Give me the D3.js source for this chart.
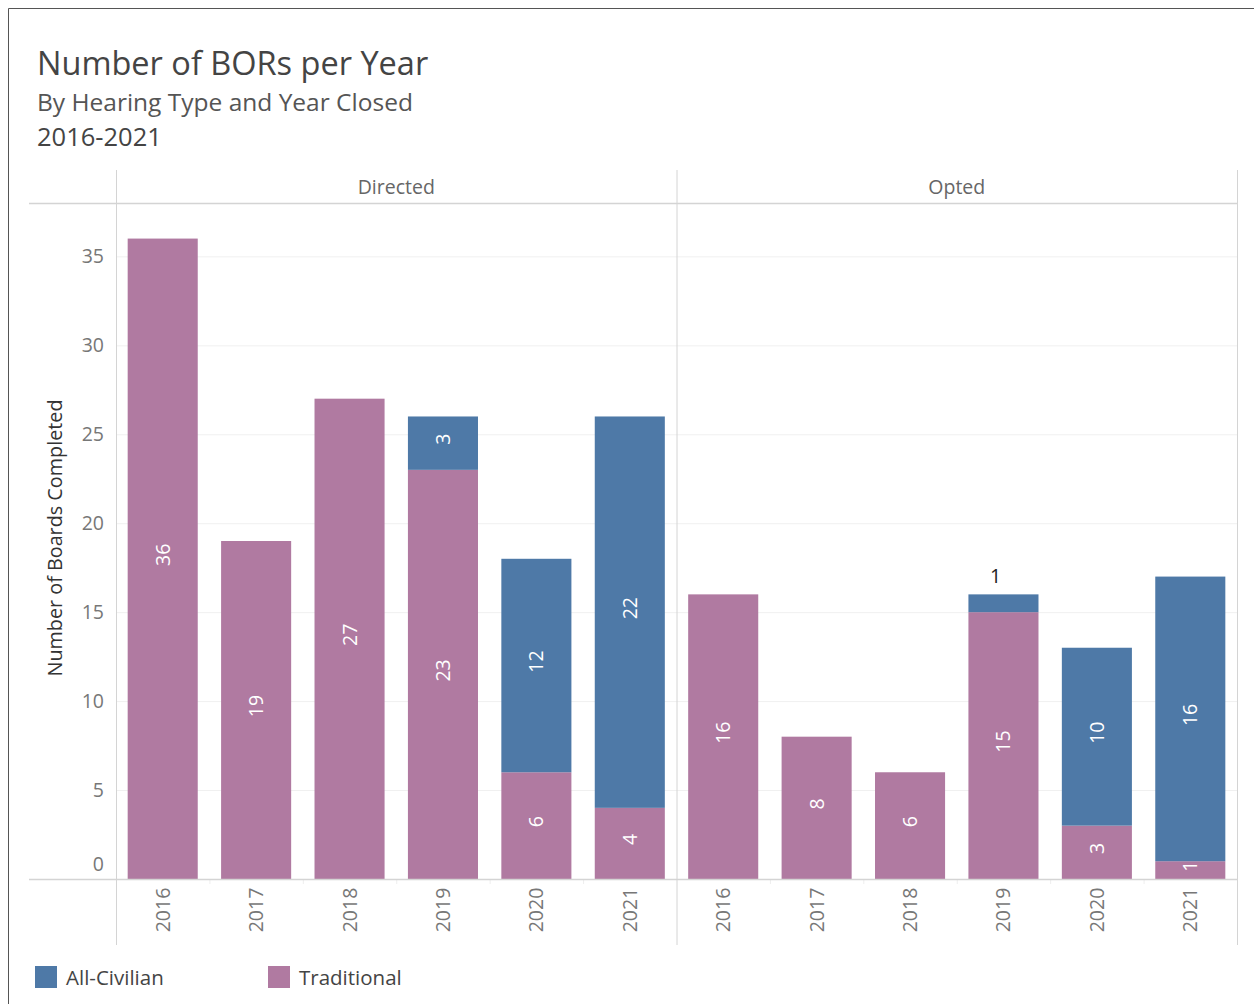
<!DOCTYPE html>
<html><head><meta charset="utf-8">
<script src="https://cdn.jsdelivr.net/npm/d3@7"></script>
<style>body{margin:0;background:#fff;}svg{display:block;font-family:"Open Sans",sans-serif;}</style>
</head><body>
<svg id="c" width="1254" height="1004"></svg>
<script>
const panels = ["Directed", "Opted"];
const years = ["2016", "2017", "2018", "2019", "2020", "2021"];
const seriesNames = ["Traditional", "All-Civilian"];
const directedTraditional = [36, 19, 27, 23, 6, 4];
const directedCivilian = [0, 0, 0, 3, 12, 22];
const optedTraditional = [16, 8, 6, 15, 3, 1];
const optedCivilian = [0, 0, 0, 1, 10, 16];
const yTicks = [0, 5, 10, 15, 20, 25, 30, 35];
const colors = {"Traditional": "#B07AA1", "All-Civilian": "#4E79A7"};

const svg = d3.select("#c");
svg.append("path").attr("d","M8.5,1004 V8.5 H1254").attr("fill","none").attr("stroke","#555").attr("stroke-width",1);

svg.append("text").attr("x",37).attr("y",75).attr("font-size",32.5).attr("fill","#444").text("Number of BORs per Year");
svg.append("text").attr("x",37).attr("y",111).attr("font-size",24.5).attr("fill","#555").text("By Hearing Type and Year Closed");
svg.append("text").attr("x",37).attr("y",146).attr("font-size",25.5).attr("fill","#444").text("2016-2021");

const plotLeft = 116, plotRight = 1237, plotTop = 203, plotBottom = 879;
const y = d3.scaleLinear().domain([0, 38]).range([plotBottom, plotTop]);
const px = d3.scaleBand().domain(panels).range([plotLeft, plotRight]);

svg.append("g").selectAll("line").data(yTicks.filter(d=>d>0)).join("line")
  .attr("x1", plotLeft).attr("x2", plotRight).attr("y1", d=>y(d)+0.5).attr("y2", d=>y(d)+0.5)
  .attr("stroke","#f0f0f0").attr("stroke-width",1);

const yAxis = d3.axisLeft(y).tickValues(yTicks).tickSize(0).tickPadding(12);
const yg = svg.append("g").attr("transform",`translate(${plotLeft},0)`).call(yAxis);
yg.select(".domain").remove();
yg.selectAll("text").attr("font-size",19.5).attr("fill","#777").attr("font-family","Open Sans");
yg.selectAll(".tick").filter(d=>d===0).select("text").attr("dy","-0.45em");
svg.append("text").attr("transform",`translate(62,${538}) rotate(-90)`)
  .attr("text-anchor","middle").attr("font-size",19.8).attr("fill","#333").text("Number of Boards Completed");

const data = {
  "Directed": years.map((yr,i)=>({year:yr, "Traditional":directedTraditional[i], "All-Civilian":directedCivilian[i]})),
  "Opted": years.map((yr,i)=>({year:yr, "Traditional":optedTraditional[i], "All-Civilian":optedCivilian[i]}))
};
const stack = d3.stack().keys(seriesNames);

panels.forEach(p=>{
  const x = d3.scaleBand().domain(years).range([px(p), px(p)+px.bandwidth()]).paddingInner(0.25).paddingOuter(0.125);
  const g = svg.append("g");
  g.append("text").attr("x", px(p)+px.bandwidth()/2).attr("y", 194).attr("text-anchor","middle")
    .attr("font-size",19.5).attr("fill","#666").text(p);
  const layers = stack(data[p]);
  layers.forEach(layer=>{
    const key = layer.key;
    g.append("g").selectAll("rect").data(layer.filter(d=>d[1]-d[0]>0)).join("rect")
      .attr("x", d=>x(d.data.year)).attr("width", x.bandwidth())
      .attr("y", d=>y(d[1])).attr("height", d=>y(d[0])-y(d[1]))
      .attr("fill", colors[key]);
    g.append("g").selectAll("text").data(layer.filter(d=>d[1]-d[0]>0)).join("text")
      .each(function(d){
        const v = d[1]-d[0];
        const cx = x(d.data.year)+x.bandwidth()/2;
        const sel = d3.select(this);
        if (v === 1 && key === "All-Civilian") {
          sel.attr("x", cx-8).attr("y", y(d[1])-11).attr("text-anchor","middle")
            .attr("font-size",19.5).attr("fill","#222").text(v);
        } else {
          const cy = (y(d[0])+y(d[1]))/2;
          sel.attr("transform",`translate(${cx+7},${cy-4}) rotate(-90)`).attr("text-anchor","middle")
            .attr("font-size",19.5).attr("fill","#fff").text(v);
        }
      });
  });
  const xg = svg.append("g").attr("transform",`translate(0,${plotBottom})`)
    .call(d3.axisBottom(x).tickSize(0).tickPadding(0));
  xg.select(".domain").remove();
  xg.selectAll("text").attr("font-size",19.5).attr("fill","#777").attr("font-family","Open Sans")
    .attr("transform","translate(7,31) rotate(-90)").attr("text-anchor","middle").attr("dy","0");
  years.slice(1).forEach(yr=>{
    svg.append("line").attr("x1", x(yr)-x.step()*0.125+0.5).attr("x2", x(yr)-x.step()*0.125+0.5)
      .attr("y1", plotBottom).attr("y2", plotBottom+5).attr("stroke","#eee");
  });
});

const lc = "#d4d4d4";
svg.append("line").attr("x1",29).attr("x2",plotRight).attr("y1",plotTop+0.5).attr("y2",plotTop+0.5).attr("stroke",lc).attr("stroke-width",1.5);
svg.append("line").attr("x1",29).attr("x2",plotRight).attr("y1",plotBottom+0.5).attr("y2",plotBottom+0.5).attr("stroke",lc).attr("stroke-width",1.5);
[plotLeft, px("Opted"), plotRight].forEach(xx=>{
  svg.append("line").attr("x1",xx+0.5).attr("x2",xx+0.5).attr("y1",170).attr("y2",945).attr("stroke",lc).attr("stroke-width",1);
});

const legendItems = ["All-Civilian","Traditional"];
const lg = svg.append("g").selectAll("g").data(legendItems).join("g")
  .attr("transform",(d,i)=>`translate(${35+i*233},966)`);
lg.append("rect").attr("width",22).attr("height",22).attr("fill",d=>colors[d]);
lg.append("text").attr("x",31).attr("y",19).attr("font-size",20.5).attr("fill","#444").text(d=>d);
</script>
</body></html>
